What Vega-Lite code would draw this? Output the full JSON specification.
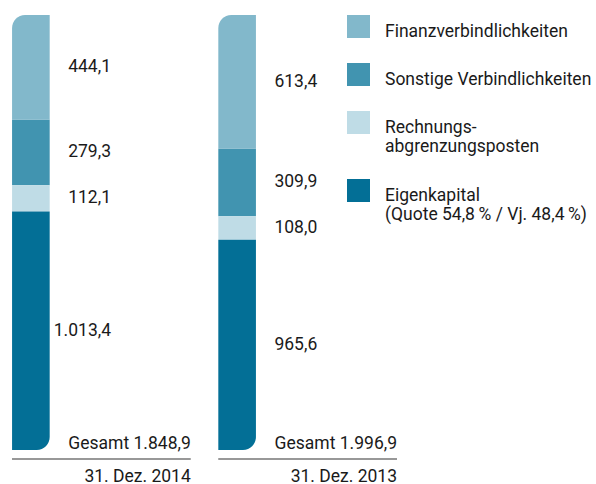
{
  "$schema": "https://vega.github.io/schema/vega-lite/v6.json",
  "width": 596,
  "height": 484,
  "autosize": "none",
  "padding": 0,
  "config": {
    "font": "Roboto",
    "view": {"stroke": null},
    "locale": {"number": {"decimal": ",", "thousands": ".", "grouping": [3], "currency": ["", " €"]}},
    "text": {"font": "Roboto", "fontSize": 17.5, "color": "#1a1a1a"}
  },
  "datasets": {
    "bilanz": [
      {"date": "31. Dez. 2014", "category": "Finanzverbindlichkeiten", "order": 4, "value": 444.1},
      {"date": "31. Dez. 2014", "category": "Sonstige Verbindlichkeiten", "order": 3, "value": 279.3},
      {"date": "31. Dez. 2014", "category": "Rechnungsabgrenzungsposten", "order": 2, "value": 112.1},
      {"date": "31. Dez. 2014", "category": "Eigenkapital", "order": 1, "value": 1013.4},
      {"date": "31. Dez. 2013", "category": "Finanzverbindlichkeiten", "order": 4, "value": 613.4},
      {"date": "31. Dez. 2013", "category": "Sonstige Verbindlichkeiten", "order": 3, "value": 309.9},
      {"date": "31. Dez. 2013", "category": "Rechnungsabgrenzungsposten", "order": 2, "value": 108.0},
      {"date": "31. Dez. 2013", "category": "Eigenkapital", "order": 1, "value": 965.6}
    ],
    "gesamt": [
      {"date": "31. Dez. 2014", "label": "Gesamt 1.848,9"},
      {"date": "31. Dez. 2013", "label": "Gesamt 1.996,9"}
    ]
  },
  "encoding": {
    "x": {
      "field": "date",
      "type": "nominal",
      "scale": {"domain": ["31. Dez. 2014", "31. Dez. 2013"], "range": [12, 397], "paddingInner": 0.1333, "paddingOuter": 0},
      "axis": null
    }
  },
  "layer": [
    {
      "data": {"name": "bilanz"},
      "transform": [
        {"stack": "value", "groupby": ["date"], "sort": [{"field": "order", "order": "ascending"}], "offset": "normalize", "as": ["y0", "y1"]},
        {"filter": "datum.category == 'Sonstige Verbindlichkeiten' || datum.category == 'Rechnungsabgrenzungsposten'"}
      ],
      "mark": {"type": "bar", "width": {"band": 0.2105}, "xOffset": -70.5},
      "encoding": {
        "y": {"field": "y0", "type": "quantitative", "scale": {"domain": [0, 1], "range": [450, 15], "nice": false, "zero": false}, "axis": null},
        "y2": {"field": "y1"},
        "color": {
          "field": "category",
          "type": "nominal",
          "scale": {
            "domain": ["Finanzverbindlichkeiten", "Sonstige Verbindlichkeiten", "Rechnungsabgrenzungsposten", "Eigenkapital"],
            "range": ["#82B8CB", "#4194B0", "#BFDCE6", "#036F96"]
          },
          "legend": {
            "title": null,
            "orient": "none",
            "legendX": 347,
            "legendY": 11,
            "padding": 0,
            "symbolType": "M-1,-0.65H1V1.35H-1Z",
            "symbolSize": 529,
            "symbolStrokeWidth": 0,
            "symbolOpacity": 1,
            "labelFont": "Roboto",
            "labelFontSize": 17.5,
            "labelColor": "#1a1a1a",
            "labelOffset": 15,
            "labelBaseline": "top",
            "labelLineHeight": 22,
            "rowPadding": 19,
            "labelLimit": 400,
            "labelExpr": "datum.label == 'Rechnungsabgrenzungsposten' ? ['Rechnungs-', 'abgrenzungsposten'] : datum.label == 'Eigenkapital' ? ['Eigenkapital', '(Quote 54,8\u2009% / Vj. 48,4\u2009%)'] : datum.label"
          }
        }
      }
    },
    {
      "data": {"name": "bilanz"},
      "transform": [
        {"stack": "value", "groupby": ["date"], "sort": [{"field": "order", "order": "ascending"}], "offset": "normalize", "as": ["y0", "y1"]},
        {"filter": "datum.category == 'Finanzverbindlichkeiten'"}
      ],
      "mark": {"type": "bar", "width": {"band": 0.2105}, "xOffset": -70.5, "cornerRadiusTopLeft": 13},
      "encoding": {
        "y": {"field": "y0", "type": "quantitative"},
        "y2": {"field": "y1"},
        "color": {"field": "category", "type": "nominal"}
      }
    },
    {
      "data": {"name": "bilanz"},
      "transform": [
        {"stack": "value", "groupby": ["date"], "sort": [{"field": "order", "order": "ascending"}], "offset": "normalize", "as": ["y0", "y1"]},
        {"filter": "datum.category == 'Eigenkapital'"}
      ],
      "mark": {"type": "bar", "width": {"band": 0.2105}, "xOffset": -70.5, "cornerRadiusBottomRight": 13},
      "encoding": {
        "y": {"field": "y0", "type": "quantitative"},
        "y2": {"field": "y1"},
        "color": {"field": "category", "type": "nominal"}
      }
    },
    {
      "data": {"name": "bilanz"},
      "transform": [
        {"stack": "value", "groupby": ["date"], "sort": [{"field": "order", "order": "ascending"}], "offset": "normalize", "as": ["y0", "y1"]},
        {"calculate": "(datum.y0 + datum.y1) / 2", "as": "mid"}
      ],
      "mark": {"type": "text", "align": "right", "baseline": "middle", "dx": 99},
      "encoding": {
        "x": {"field": "date", "type": "nominal", "bandPosition": 0},
        "y": {"field": "mid", "type": "quantitative"},
        "text": {"field": "value", "type": "quantitative", "format": ",.1f"}
      }
    },
    {
      "data": {"name": "gesamt"},
      "mark": {"type": "rule", "color": "#333333", "strokeWidth": 1.2, "yOffset": 9},
      "encoding": {
        "x": {"field": "date", "type": "nominal", "bandPosition": 0},
        "x2": {"field": "date", "bandPosition": 1},
        "y": {"datum": 0, "type": "quantitative"}
      }
    },
    {
      "data": {"name": "gesamt"},
      "mark": {"type": "text", "align": "right", "baseline": "alphabetic", "dy": -1},
      "encoding": {
        "x": {"field": "date", "type": "nominal", "bandPosition": 1},
        "y": {"datum": 0, "type": "quantitative"},
        "text": {"field": "label"}
      }
    },
    {
      "data": {"name": "gesamt"},
      "mark": {"type": "text", "align": "right", "baseline": "alphabetic", "dy": 31.5},
      "encoding": {
        "x": {"field": "date", "type": "nominal", "bandPosition": 1},
        "y": {"datum": 0, "type": "quantitative"},
        "text": {"field": "date"}
      }
    }
  ]
}
